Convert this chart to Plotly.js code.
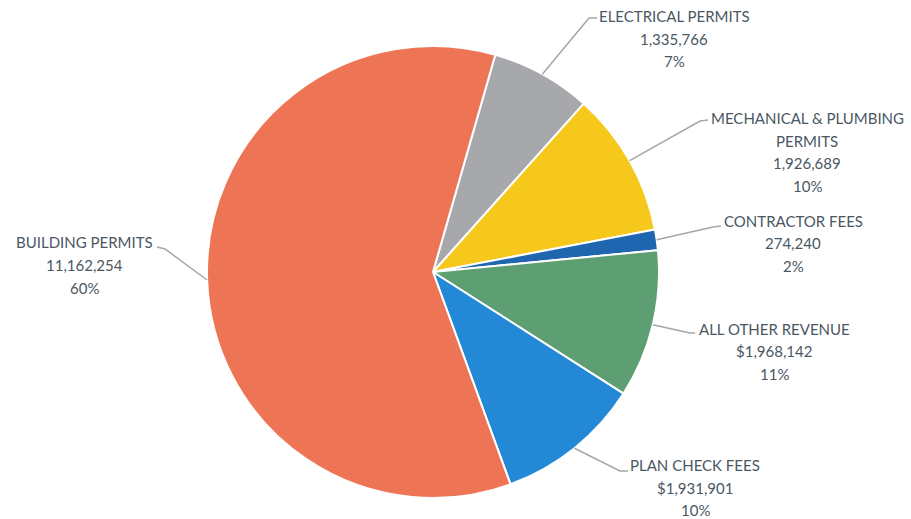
<!DOCTYPE html>
<html>
<head>
<meta charset="utf-8">
<script src="https://cdn.plot.ly/plotly-3.0.1.min.js"></script>
<style>html,body{margin:0;padding:0;background:#fff;}#chart{width:911px;height:519px;}</style>
</head>
<body>
<div id="chart"></div>
<script>
// ---- data ----
var categories = ["ELECTRICAL PERMITS", "MECHANICAL & PLUMBING PERMITS", "CONTRACTOR FEES", "ALL OTHER REVENUE", "PLAN CHECK FEES", "BUILDING PERMITS"];
var values = [1335766, 1926689, 274240, 1968142, 1931901, 11162254];
var valueLabels = ["1,335,766", "1,926,689", "274,240", "$1,968,142", "$1,931,901", "11,162,254"];
var percentLabels = ["7%", "10%", "2%", "11%", "10%", "60%"];
var nameLines = [["ELECTRICAL PERMITS"], ["MECHANICAL & PLUMBING", "PERMITS"], ["CONTRACTOR FEES"], ["ALL OTHER REVENUE"], ["PLAN CHECK FEES"], ["BUILDING PERMITS"]];
var colors = ["#A6A8AB", "#F6C81C", "#1F66B0", "#5E9E73", "#2389D6", "#EE7456"];

// ---- layout constants (pixels) ----
var W = 911, H = 519;
var CX = 433, CY = 272, R = 226, ROT = 16;
// label block: centre x, first-line y, line spacing
var labelPos = [
  {x: 674, y: 16.5, elbow: [[597, 18], [589, 18]]},
  {x: 807, y: 118, elbow: [[708, 120], [700, 121]]},
  {x: 793, y: 221, elbow: [[721, 226], [713, 227]]},
  {x: 774, y: 328.5, elbow: [[695, 333], [690, 333]]},
  {x: 695, y: 465, elbow: [[628, 471], [620, 471]]},
  {x: 84, y: 242.5, elbow: [[157, 247], [165, 249]]}
];
var LINE = 22.5;
var textColor = "#4A5763";
var FONT = "Lato, 'Open Sans', sans-serif";

function px(x) { return x / W; }
function py(y) { return 1 - y / H; }

var total = values.reduce(function (a, b) { return a + b; }, 0);
var annotations = [];
var shapes = [];
var cum = 0;
for (var i = 0; i < values.length; i++) {
  var mid = ROT + (cum + values[i] / 2) / total * 360;
  cum += values[i];
  var a = mid * Math.PI / 180;
  var ex = CX + R * Math.sin(a), ey = CY - R * Math.cos(a);
  var p = labelPos[i];
  var path = "M" + px(p.elbow[0][0]) + "," + py(p.elbow[0][1]) +
             " L" + px(p.elbow[1][0]) + "," + py(p.elbow[1][1]) +
             " L" + px(ex) + "," + py(ey);
  shapes.push({type: "path", xref: "paper", yref: "paper", path: path,
               line: {color: "#A3A7AA", width: 1.5}});
  var lines = nameLines[i].concat([valueLabels[i], percentLabels[i]]);
  for (var k = 0; k < lines.length; k++) {
    annotations.push({
      xref: "paper", yref: "paper", x: px(p.x), y: py(p.y + k * LINE),
      xanchor: "center", yanchor: "middle", showarrow: false,
      text: lines[k], font: {family: FONT, size: 15, color: textColor}
    });
  }
}

var trace = {
  type: "pie",
  labels: categories,
  values: values,
  sort: false,
  direction: "clockwise",
  rotation: ROT,
  textinfo: "none",
  hoverinfo: "label+value+percent",
  marker: {colors: colors, line: {color: "#FFFFFF", width: 2}},
  domain: {x: [px(CX - R), px(CX + R)], y: [py(CY + R), py(CY - R)]}
};

var layout = {
  width: W, height: H,
  margin: {l: 0, r: 0, t: 0, b: 0},
  paper_bgcolor: "#FFFFFF",
  showlegend: false,
  annotations: annotations,
  shapes: shapes
};

Plotly.newPlot("chart", [trace], layout, {displayModeBar: false, staticPlot: true});
</script>
</body>
</html>
